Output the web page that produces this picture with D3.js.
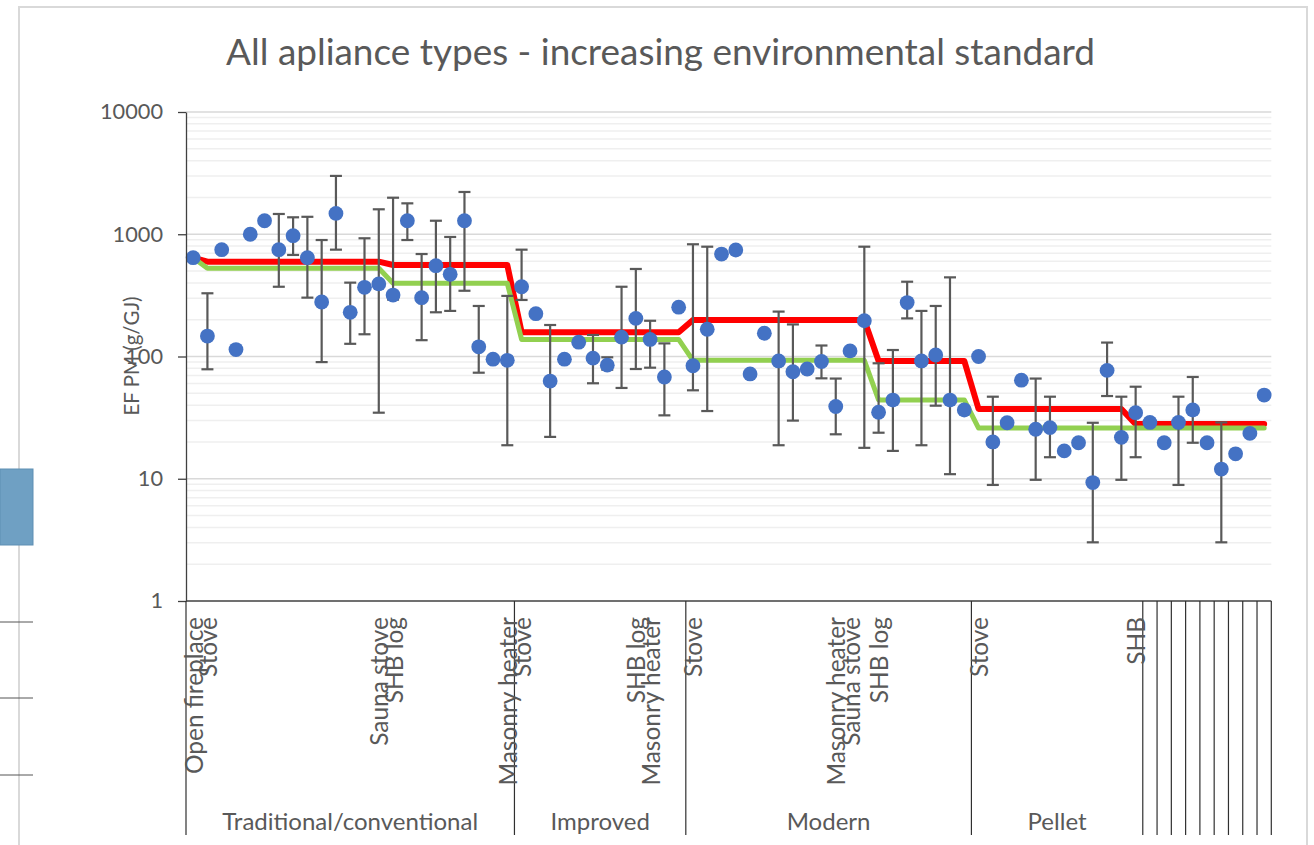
<!DOCTYPE html>
<html>
<head>
<meta charset="utf-8">
<script src="https://cdn.jsdelivr.net/npm/d3@7"></script>
<style>
  html, body { margin: 0; padding: 0; background: #fff; }
  svg { display: block; }
</style>
</head>
<body>
<svg id="chart" width="1314" height="845"></svg>
<script>
// ---- data -------------------------------------------------------------
// appliance classes along the category axis and how many tests each holds
const groupNames = ["Traditional/conventional", "Improved", "Modern", "Pellet"];
const groupSizes = [23, 12, 20, 12];
const trailingBlank = 9;   // extra tests without a class label

// appliance type label written at the first test of each type
const typeLabels = [
  [0, "Open fireplace"], [1, "Stove"], [13, "Sauna stove"], [14, "SHB log"], [22, "Masonry heater"],
  [23, "Stove"], [31, "SHB log"], [32, "Masonry heater"],
  [35, "Stove"], [45, "Masonry heater"], [46, "Sauna stove"], [48, "SHB log"],
  [55, "Stove"], [66, "SHB"]
];

// PM emission factor per test (g/GJ)
const pm = [
  643, 147, 748, 114, 1000, 1290, 748, 973, 643, 279, 1480, 230, 368, 392, 318, 1290, 303, 553, 470, 1290, 120, 95, 93,
  372, 224, 63, 95, 131, 97, 85, 144, 205, 138, 68, 253,
  84, 167, 689, 743, 72, 155, 92, 75, 79, 91, 39, 111, 196, 35, 44, 276, 92, 103, 44, 36.5,
  100, 20, 28.7, 64, 25.4, 26.2, 16.9, 19.7, 9.3, 77, 21.8, 34.7,
  28.9, 19.7, 28.9, 36.5, 19.7, 12, 16, 23.5, 48.4
];
// upper / lower end of the reported range (null = no range given)
const pmHigh = [
  null, 329, null, null, null, null, 1465, 1376, 1389, 897, 3000, 402, 927, 1600, 1990, 1790, 689, 1290, 950, 2217, 259, null, 313,
  748, null, 181, null, null, 150, 98.5, 372, 520, 196, 128, null,
  828, 791, null, null, null, null, 233, 183, null, 123, 66, null, 791, 88, 113, 409, 236, 259, 444, null,
  null, 46.9, null, null, 66, 46.9, null, null, 28.7, 130, 46.9, 56.6,
  null, null, 46.9, 68, null, 28.9, null, null, null
];
const pmLow = [
  null, 78.6, null, null, null, null, 372, 677, 303, 90, 748, 127, 152, 34.7, 292, 897, 136, 230, 236, 345, 73.7, null, 18.8,
  290, null, 22, null, null, 60.4, 78, 55.3, 79, 81, 33, null,
  52.9, 35.8, null, null, null, null, 18.8, 29.9, null, 66.3, 23.1, null, 17.9, 23.8, 16.9, 205, 18.8, 39.6, 10.9, null,
  null, 8.9, null, null, 9.8, 15, null, null, 3.02, 47.5, 9.8, 15,
  null, null, 8.9, 19.7, null, 3.02, null, null, null
];
// class averages drawn as step lines
const meanLine = [
  643, 597, 597, 597, 597, 597, 597, 597, 597, 597, 597, 597, 597, 597, 560, 560, 560, 560, 560, 560, 560, 560, 560,
  158, 158, 158, 158, 158, 158, 158, 158, 158, 158, 158, 158,
  199, 199, 199, 199, 199, 199, 199, 199, 199, 199, 199, 199, 199, 92, 92, 92, 92, 92, 92, 92,
  37.2, 37.2, 37.2, 37.2, 37.2, 37.2, 37.2, 37.2, 37.2, 37.2, 37.2, 28,
  28, 28, 28, 28, 28, 28, 28, 28, 28
];
const medianLine = [
  643, 527, 527, 527, 527, 527, 527, 527, 527, 527, 527, 527, 527, 527, 397, 397, 397, 397, 397, 397, 397, 397, 397,
  138, 138, 138, 138, 138, 138, 138, 138, 138, 138, 138, 138,
  93, 93, 93, 93, 93, 93, 93, 93, 93, 93, 93, 93, 93, 44.1, 44.1, 44.1, 44.1, 44.1, 44.1, 44.1,
  26, 26, 26, 26, 26, 26, 26, 26, 26, 26, 26, 26,
  26, 26, 26, 26, 26, 26, 26, 26, 26
];
const yTicks = [1, 10, 100, 1000, 10000];

// ---- layout -----------------------------------------------------------
const W = 1314, H = 845;
const plot = { left: 186, right: 1271.3, top: 112, bottom: 601 };
const axisBottom = 835;
const font = "Lato, 'Open Sans', sans-serif";
const ink = "#595959";
const axisInk = "#404040";

const svg = d3.select("#chart");
svg.append("rect").attr("width", W).attr("height", H).attr("fill", "#fff");

// chart frame
svg.append("rect")
  .attr("x", 19).attr("y", 7).attr("width", 1288).attr("height", 860)
  .attr("fill", "#fff").attr("stroke", "#D9D9D9").attr("stroke-width", 2);

const n = pm.length;
const x = d3.scaleBand().domain(d3.range(n)).range([plot.left, plot.right]).padding(0);
const cx = i => x(i) + x.bandwidth() / 2;
const edge = k => (k < n ? x(k) : plot.right);
const y = d3.scaleLog().domain([1, 10000]).range([plot.bottom, plot.top]);

// gridlines
const minorTicks = y.ticks().filter(v => !yTicks.includes(v));
svg.append("g").selectAll("line").data(minorTicks).join("line")
  .attr("x1", plot.left).attr("x2", plot.right)
  .attr("y1", d => y(d)).attr("y2", d => y(d))
  .attr("stroke", "#EFEFEF").attr("stroke-width", 1.5);
svg.append("g").selectAll("line").data(yTicks.filter(v => v > 1)).join("line")
  .attr("x1", plot.left).attr("x2", plot.right)
  .attr("y1", d => y(d)).attr("y2", d => y(d))
  .attr("stroke", "#D9D9D9").attr("stroke-width", 1.6);

// step lines
const stepLine = d3.line().x((d, i) => cx(i)).y(d => y(d));
svg.append("path").datum(meanLine).attr("d", stepLine)
  .attr("fill", "none").attr("stroke", "#FF0000").attr("stroke-width", 6)
  .attr("stroke-linejoin", "round").attr("stroke-linecap", "round");
svg.append("path").datum(medianLine).attr("d", stepLine)
  .attr("fill", "none").attr("stroke", "#92D050").attr("stroke-width", 5)
  .attr("stroke-linejoin", "round").attr("stroke-linecap", "round");

// range bars
const ranges = pm.map((v, i) => ({ i, hi: pmHigh[i], lo: pmLow[i] })).filter(d => d.hi != null);
const capW = 12;
const eg = svg.append("g").attr("stroke", ink).attr("stroke-width", 2.2).attr("fill", "none");
eg.selectAll(".stem").data(ranges).join("line").attr("class", "stem")
  .attr("x1", d => cx(d.i)).attr("x2", d => cx(d.i))
  .attr("y1", d => y(d.hi)).attr("y2", d => y(d.lo));
eg.selectAll(".capHi").data(ranges).join("line").attr("class", "capHi")
  .attr("x1", d => cx(d.i) - capW / 2).attr("x2", d => cx(d.i) + capW / 2)
  .attr("y1", d => y(d.hi)).attr("y2", d => y(d.hi));
eg.selectAll(".capLo").data(ranges).join("line").attr("class", "capLo")
  .attr("x1", d => cx(d.i) - capW / 2).attr("x2", d => cx(d.i) + capW / 2)
  .attr("y1", d => y(d.lo)).attr("y2", d => y(d.lo));

// measured points
svg.append("g").selectAll("circle").data(pm).join("circle")
  .attr("cx", (d, i) => cx(i)).attr("cy", d => y(d)).attr("r", 7.4)
  .attr("fill", "#4472C4");

// value axis
const yAxis = d3.axisLeft(y).tickValues(yTicks).tickFormat(d3.format("d"))
  .tickSize(8).tickSizeOuter(0).tickPadding(15);
const ga = svg.append("g").attr("transform", `translate(${plot.left},0)`).call(yAxis);
ga.select(".domain").attr("stroke", axisInk).attr("stroke-width", 1.3);
ga.selectAll(".tick line").attr("stroke", axisInk).attr("stroke-width", 1.3);
ga.selectAll(".tick text").attr("fill", ink).attr("font-family", font).attr("font-size", 22);

// category axis line and class dividers
svg.append("line").attr("x1", plot.left).attr("x2", plot.right)
  .attr("y1", plot.bottom).attr("y2", plot.bottom)
  .attr("stroke", axisInk).attr("stroke-width", 1.3);
const cuts = [0];
groupSizes.forEach(s => cuts.push(cuts[cuts.length - 1] + s));
const lastGroupEnd = cuts[cuts.length - 1];
for (let k = 1; k <= trailingBlank; k++) cuts.push(lastGroupEnd + k);
svg.append("g").selectAll("line").data(cuts).join("line")
  .attr("x1", d => edge(d)).attr("x2", d => edge(d))
  .attr("y1", plot.bottom).attr("y2", axisBottom)
  .attr("stroke", "#303030").attr("stroke-width", 1.2);

// appliance type labels (rotated)
const tl = svg.append("g").selectAll("text").data(typeLabels).join("text")
  .attr("transform", d => `translate(${cx(d[0])},617) rotate(-90)`)
  .attr("text-anchor", "end").attr("dominant-baseline", "central")
  .attr("fill", ink).attr("font-family", font).attr("font-size", 22)
  .text(d => d[1]);

// class labels
const groupData = groupNames.map((g, j) => ({ g, a: cuts[j], b: cuts[j + 1] }));
const gl = svg.append("g").selectAll("text").data(groupData).join("text")
  .attr("x", d => (edge(d.a) + edge(d.b)) / 2).attr("y", 820)
  .attr("text-anchor", "middle").attr("dominant-baseline", "central")
  .attr("fill", ink).attr("font-family", font).attr("font-size", 22)
  .text(d => d.g);

// titles
const title = svg.append("text").attr("x", 660.5).attr("y", 65)
  .attr("text-anchor", "middle").attr("fill", ink)
  .attr("font-family", font).attr("font-size", 30)
  .text("All apliance types - increasing environmental standard");
svg.append("text")
  .attr("transform", "translate(131,356) rotate(-90)")
  .attr("text-anchor", "middle").attr("dominant-baseline", "central")
  .attr("fill", ink).attr("font-family", font).attr("font-size", 20.5)
  .text("EF PM (g/GJ)");

// size each text class so its sample string spans the intended width
function fit(sel, sampleNode, target) {
  const fs = parseFloat(d3.select(sampleNode).attr("font-size"));
  const w = sampleNode.getComputedTextLength();
  sel.attr("font-size", (fs * target / w).toFixed(2));
}
fit(title, title.node(), 869);
fit(gl, gl.nodes()[0], 256);
fit(tl, tl.nodes()[0], 157);
const tickTexts = ga.selectAll(".tick text");
fit(tickTexts, tickTexts.nodes()[tickTexts.size() - 1], 63);

// neighbouring sheet objects along the left edge
svg.append("rect").attr("x", 0).attr("y", 469).attr("width", 33).attr("height", 76)
  .attr("fill", "#6FA0C3").attr("stroke", "#5F8FB3").attr("stroke-width", 1);
svg.append("g").selectAll("line").data([622, 698, 775]).join("line")
  .attr("x1", 0).attr("x2", 33).attr("y1", d => d).attr("y2", d => d)
  .attr("stroke", "#555").attr("stroke-width", 1);
</script>
</body>
</html>
